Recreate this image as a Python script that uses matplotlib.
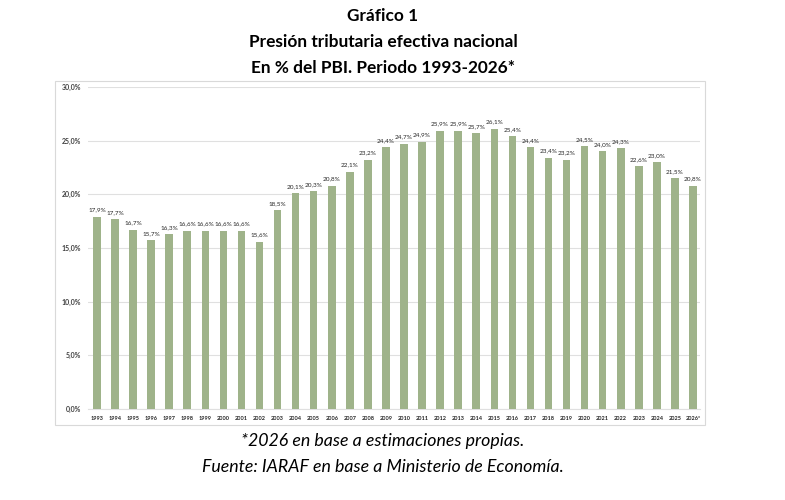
import matplotlib.pyplot as plt
from matplotlib.patches import Rectangle

plt.rcParams['font.family'] = ['Lato', 'DejaVu Sans']

years = ['1993', '1994', '1995', '1996', '1997', '1998', '1999', '2000', '2001',
         '2002', '2003', '2004', '2005', '2006', '2007', '2008', '2009', '2010',
         '2011', '2012', '2013', '2014', '2015', '2016', '2017', '2018', '2019',
         '2020', '2021', '2022', '2023', '2024', '2025', '2026*']
presion = [17.9, 17.7, 16.7, 15.7, 16.3, 16.6, 16.6, 16.6, 16.6, 15.6, 18.5, 20.1,
           20.3, 20.8, 22.1, 23.2, 24.4, 24.7, 24.9, 25.9, 25.9, 25.7, 26.1, 25.4,
           24.4, 23.4, 23.2, 24.5, 24.0, 24.3, 22.6, 23.0, 21.5, 20.8]
yticks = [0, 5, 10, 15, 20, 25, 30]

bar_color = '#9fb38a'

fig = plt.figure(figsize=(7.85, 5), dpi=100)
ax = fig.add_axes([0.112, 0.182, 0.78, 0.644])

x = list(range(len(years)))
ax.bar(x, presion, width=0.42, color=bar_color, zorder=3)

for xi, v in zip(x, presion):
    ax.text(xi, v + 0.4, f'{v:.1f}%'.replace('.', ','), ha='center', va='bottom',
            fontsize=4.6, color='#262626')

ax.set_xlim(-0.5, 33.4)
ax.set_ylim(0, 30)
ax.set_yticks(yticks)
ax.set_yticklabels([f'{t:.1f}%'.replace('.', ',') for t in yticks],
                   fontsize=5, fontweight='bold', color='#404040')
ax.set_xticks(x)
ax.set_xticklabels(years, fontsize=4, fontweight='bold', color='#222222')
ax.tick_params(length=0, pad=5)
ax.yaxis.grid(True, color='#e0e0e0', linewidth=0.8, zorder=0)
for s in ax.spines.values():
    s.set_visible(False)
ax.spines['bottom'].set_visible(True)
ax.spines['bottom'].set_color('#e0e0e0')

# chart border
fig.patches.append(Rectangle((55 / 785, 1 - 425 / 500), 650 / 785, 344 / 500,
                             transform=fig.transFigure, fill=False,
                             edgecolor='#d9d9d9', linewidth=0.8))

cx = 383 / 785
fig.text(cx, 1 - 16 / 500, 'Gráfico 1', ha='center', va='center',
         fontsize=12.4, fontweight='bold')
fig.text(cx, 1 - 42 / 500, 'Presión tributaria efectiva nacional', ha='center',
         va='center', fontsize=12.4, fontweight='bold')
fig.text(cx, 1 - 68 / 500, 'En % del PBI. Periodo 1993-2026*', ha='center',
         va='center', fontsize=12.4, fontweight='bold')
fig.text(cx, 1 - 441 / 500, '*2026 en base a estimaciones propias.', ha='center',
         va='center', fontsize=12.8, style='italic')
fig.text(cx, 1 - 467 / 500, 'Fuente: IARAF en base a Ministerio de Economía.',
         ha='center', va='center', fontsize=12.8, style='italic')

fig.savefig('out.png', dpi=100)
